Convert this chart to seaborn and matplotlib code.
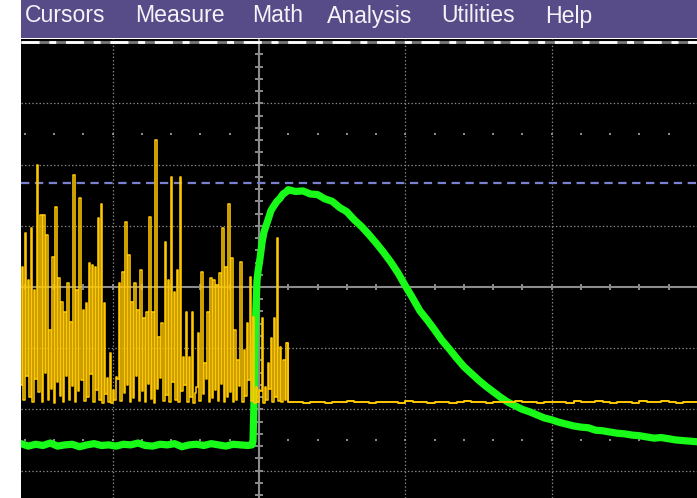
import numpy as np
import pandas as pd
import matplotlib
matplotlib.use("Agg")
import matplotlib.pyplot as plt
from matplotlib.patches import Rectangle
import seaborn as sns

sns.set_style("dark")
plt.rcParams["font.family"] = ["Liberation Sans", "DejaVu Sans"]
plt.rcParams["lines.scale_dashes"] = False

# ---- menu bar ----
menu_items = ["Cursors", "Measure", "Math", "Analysis", "Utilities", "Help"]
menu_x_px = [25, 135, 252, 327, 441, 545]

# ---- yellow channel: burst of spikes (divisions) ----
yellow_peaks = [0.33, 0.88, 0.11, 0.96, -0.05, 1.99, 1.18, 1.18, 0.85, -0.70,
                0.49, 1.31, 0.15, -0.25, -0.41, 0.07, -0.57, 1.83, -0.05, 1.45,
                -0.38, -0.26, 0.39, 0.36, 0.33, 1.13, 1.36, -0.26, -1.49, -1.08,
                -1.68, -1.47, 0.07, 0.25, 1.06, 0.52, -0.25, 0.07, -0.38, 0.28,
                -0.51, -0.41, 1.14, -0.41, 2.40, -0.82, -0.59, 0.74, 0.11, 1.80,
                -0.08, 0.28, 1.80, -1.14, -0.41, -1.14, -0.41, -1.73, -0.75, 0.25,
                -1.24, -0.41, 0.15, 0.11, 0.03, 0.23, 0.96, 0.33, 1.36, 0.47,
                -0.70, -1.19, 0.41, -1.03, -0.59, 0.16, -0.49, -1.63, -1.68, -0.51,
                -1.63, -1.24, -0.83, -0.51, 0.80, -0.98, -1.19, -0.92]
yellow_lows = [-1.60, -1.85, -1.45, -1.80, -1.88, -1.50, -1.72, -1.88, -1.40, -1.84,
               -1.66, -1.89, -1.55, -1.78, -1.88, -1.45, -1.85, -1.62, -1.88, -1.70,
               -1.52, -1.86, -1.80, -1.42, -1.88, -1.68, -1.84, -1.89, -1.75, -1.88,
               -1.90, -1.85, -1.50, -1.87, -1.74, -1.60, -1.88, -1.82, -1.46, -1.86,
               -1.70, -1.88, -1.58, -1.83, -1.89, -1.66, -1.48, -1.86, -1.76, -1.88,
               -1.55, -1.84, -1.88, -1.70, -1.60, -1.88, -1.80, -1.89, -1.64, -1.86,
               -1.75, -1.50, -1.88, -1.82, -1.68, -1.87, -1.58, -1.88, -1.80, -1.72,
               -1.88, -1.85, -1.62, -1.88, -1.78, -1.52, -1.86, -1.89, -1.88, -1.70,
               -1.89, -1.84, -1.66, -1.88, -1.80, -1.87, -1.88, -1.84]
# quiet level after the burst, one sample every 0.05 div from t=0.20
yellow_tail = [-1.88, -1.88, -1.89, -1.88, -1.88, -1.89, -1.88, -1.88, -1.87, -1.88,
               -1.88, -1.89, -1.88, -1.88, -1.88, -1.89, -1.87, -1.88, -1.88, -1.89,
               -1.88, -1.88, -1.89, -1.88, -1.87, -1.88, -1.88, -1.89, -1.88, -1.88,
               -1.88, -1.87, -1.88, -1.88, -1.89, -1.88, -1.88, -1.88, -1.89, -1.87,
               -1.88, -1.88, -1.87, -1.88, -1.89, -1.88, -1.88, -1.89, -1.87, -1.88,
               -1.88, -1.87, -1.88, -1.89, -1.88, -1.88, -1.88]

# ---- green channel ----
# baseline before the edge, one sample every 0.05 div from t=-1.627
green_flat = [-2.56, -2.60, -2.57, -2.59, -2.55, -2.60, -2.58, -2.57, -2.61, -2.58,
              -2.56, -2.59, -2.58, -2.60, -2.57, -2.58, -2.55, -2.59, -2.60, -2.57,
              -2.58, -2.56, -2.61, -2.58, -2.57, -2.59, -2.56, -2.58, -2.60, -2.57,
              -2.58, -2.59]
green_rise_t = [-0.048, -0.041, -0.034, -0.027, -0.021, -0.014, -0.007, 0.007, 0.021,
                0.034, 0.048, 0.062, 0.082, 0.103, 0.123, 0.144, 0.164, 0.185]
green_rise_v = [-2.58, -2.52, -1.85, -0.78, -0.35, 0.10, 0.25, 0.47, 0.73,
                0.90, 1.00, 1.10, 1.25, 1.33, 1.40, 1.45, 1.52, 1.55]
# decay, one sample every 0.05 div from t=0.20
green_decay = [1.59, 1.56, 1.57, 1.52, 1.51, 1.44, 1.40, 1.30, 1.23, 1.10,
               0.99, 0.86, 0.72, 0.57, 0.41, 0.23, 0.02, -0.18, -0.39, -0.54,
               -0.70, -0.87, -1.01, -1.16, -1.30, -1.41, -1.52, -1.62, -1.71, -1.80,
               -1.88, -1.94, -2.00, -2.04, -2.09, -2.14, -2.17, -2.21, -2.24, -2.27,
               -2.29, -2.30, -2.34, -2.35, -2.37, -2.39, -2.40, -2.42, -2.43, -2.45,
               -2.47, -2.46, -2.48, -2.50, -2.51, -2.52, -2.53]

cursor_level = 1.70

# ---- assemble traces ----
n = len(yellow_peaks)
yel_burst = np.empty(2 * n)
yel_burst[0::2] = yellow_lows
yel_burst[1::2] = yellow_peaks
yel_burst_t = np.linspace(-1.627, 0.19, 2 * n)
yel_tail_t = 0.20 + 0.05 * np.arange(len(yellow_tail))
yellow_burst = pd.DataFrame({"t": yel_burst_t, "v": yel_burst})
yellow_quiet = pd.DataFrame({"t": np.concatenate([[0.19], yel_tail_t]),
                             "v": np.concatenate([[yel_burst[-1]], yellow_tail])})

green_t = np.concatenate([-1.627 + 0.05 * np.arange(len(green_flat)),
                          green_rise_t,
                          0.20 + 0.05 * np.arange(len(green_decay))])
green = pd.DataFrame({"t": green_t,
                      "v": np.concatenate([green_flat, green_rise_v, green_decay])})

# ---- figure ----
W, H = 697, 498
fig = plt.figure(figsize=(W / 100, H / 100), dpi=100)
fig.patch.set_facecolor("white")

fig.add_artist(Rectangle((21 / W, 1 - 38 / H), 676 / W, 38 / H,
                         transform=fig.transFigure, facecolor="#574b88",
                         edgecolor="none"))
for word, xp in zip(menu_items, menu_x_px):
    fig.text(xp / W, 1 - 16 / H, word, color="#f4f4f8", fontsize=16.6,
             ha="left", va="center")

ax = fig.add_axes([21 / W, 0, 676 / W, 459 / H])
ax.set_facecolor("black")
for s in ax.spines.values():
    s.set_visible(False)
ax.set_xticks([])
ax.set_yticks([])
ax.set_xlim(-1.627, 2.994)
ax.set_ylim(-3.448, 4.052)
ax.grid(False)

grid_c = "#8a8a8a"
dot = (0, (1.0, 1.6))
for gx in (-1, 1, 2):
    ax.axvline(gx, color=grid_c, lw=0.9, ls=dot, zorder=1)
for gy in (-3, -2, -1, 1, 2, 3):
    ax.axhline(gy, color=grid_c, lw=0.9, ls=dot, zorder=1)

# centre axes with minor ticks
ax.axhline(0, color="#8c8c8c", lw=1.5, zorder=1)
ax.axvline(0, color="#8c8c8c", lw=1.5, zorder=1)
tx = np.arange(-1.6, 3.0, 0.2)
ax.vlines(tx, -0.05, 0.05, color="#8c8c8c", lw=1.4, zorder=1)
ty = np.arange(-3.4, 4.0, 0.2)
ax.hlines(ty, -0.025, 0.025, color="#8c8c8c", lw=1.4, zorder=1)

# sparse dot rows
for ry in (2.5, -2.5):
    ax.scatter(tx, np.full_like(tx, ry), marker="s", s=2.5, color="#8a8a8a",
               linewidths=0, zorder=1)

# top graticule border
ax.axhline(4.0, color="#7a7a7a", lw=2.0, zorder=2)
ax.axhline(4.0, color="white", lw=2.0, ls=(0, (13, 7, 5, 7)), zorder=2)

# cursor line
ax.axhline(cursor_level, color="#7b80d2", lw=1.6, ls=(0, (6, 4)), zorder=2)

sns.lineplot(data=green, x="t", y="v", ax=ax, color="#18fa18", linewidth=5.2,
             sort=False, estimator=None, zorder=3)
sns.lineplot(data=yellow_burst, x="t", y="v", ax=ax, color="#ffc800",
             linewidth=1.15, sort=False, estimator=None, drawstyle="steps-mid",
             zorder=4)
sns.lineplot(data=yellow_quiet, x="t", y="v", ax=ax, color="#ffc800",
             linewidth=1.4, sort=False, estimator=None, drawstyle="steps-post",
             zorder=4)
ax.set_xlabel("")
ax.set_ylabel("")

fig.savefig("out.png", dpi=100, facecolor=fig.get_facecolor())
